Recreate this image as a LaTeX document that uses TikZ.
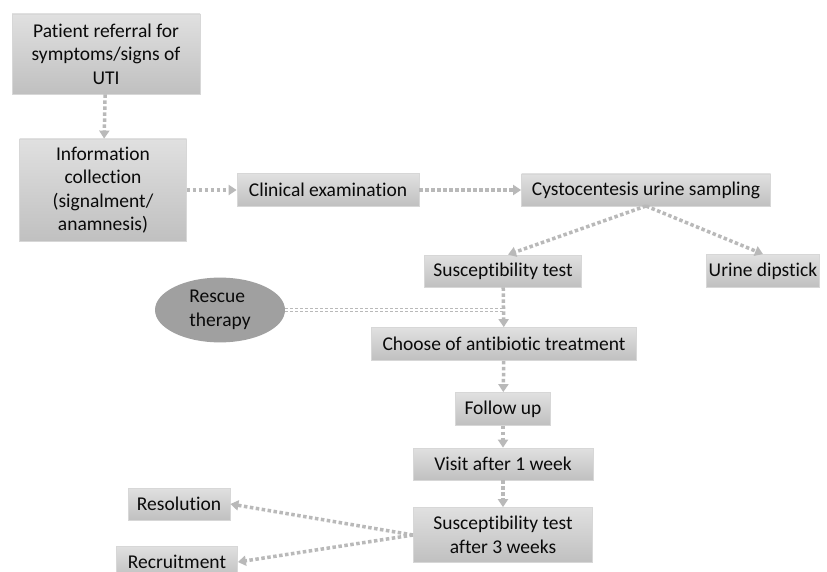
\documentclass[tikz,border=0pt]{standalone}
\usepackage{fontspec}
\setmainfont{Carlito}[Ligatures=NoCommon]
\usepackage{tikz}
\usetikzlibrary{positioning, arrows.meta, shapes.geometric}
\definecolor{boxtop}{RGB}{224,224,224}
\definecolor{boxbottom}{RGB}{192,192,192}
\definecolor{boxedge}{RGB}{215,215,215}
\definecolor{linkgray}{RGB}{185,185,185}
\definecolor{ovalgray}{RGB}{160,160,160}
\definecolor{textdark}{RGB}{10,10,10}
\tikzset{
  stepbox/.style={
    draw=boxedge, line width=0.8pt, top color=boxtop, bottom color=boxbottom,
    text=textdark, font=\fontsize{19.5}{23.5}\selectfont,
    align=center, inner sep=2pt
  },
  oval/.style={
    ellipse, fill=ovalgray, draw=none, text=textdark,
    font=\fontsize{19.5}{23.5}\selectfont, align=left
  },
  flow/.style={-{Triangle[length=8pt, width=10pt]}, linkgray, line width=3.5pt,
    dash pattern=on 3.5pt off 2.5pt},
  rescue/.style={linkgray, double=white, double distance=1.6pt, line width=1.4pt,
    dash pattern=on 3pt off 2pt}
}

\begin{document}
\begin{tikzpicture}[x=1pt, y=-1pt]
  \useasboundingbox[fill=white] (0,0) rectangle (827,572);

  \node[stepbox, minimum width=188pt, minimum height=80pt] (referral) at (106,54)
    {Patient referral for\\symptoms/signs of\\UTI};
  \node[stepbox, minimum width=167pt, minimum height=102pt] (info) at (103,190)
    {Information\\collection\\(signalment/\\anamnesis)};
  \node[stepbox, minimum width=182pt, minimum height=33pt] (clinic) at (328,190)
    {Clinical examination};
  \node[stepbox, minimum width=249pt, minimum height=32pt] (cysto) at (646,190)
    {Cystocentesis urine sampling};
  \node[stepbox, minimum width=157pt, minimum height=32pt] (suscept) at (503,271)
    {Susceptibility test};
  \node[stepbox, minimum width=110pt, minimum height=33pt] (dipstick) at (763,271)
    {Urine dipstick};
  \node[oval, minimum width=130pt, minimum height=55pt] (rescue) at (220,310)
    {Rescue\\therapy};
  \node[stepbox, minimum width=265pt, minimum height=33pt] (choose) at (504,344)
    {Choose of antibiotic treatment};
  \node[stepbox, minimum width=95pt, minimum height=33pt] (follow) at (503,409)
    {Follow up};
  \node[stepbox, minimum width=180pt, minimum height=32pt] (visit) at (503,464)
    {Visit after 1 week};
  \node[stepbox, minimum width=179pt, minimum height=55pt] (final) at (503,535)
    {Susceptibility test\\after 3 weeks};
  \node[stepbox, minimum width=102pt, minimum height=32pt] (resolution) at (179,504)
    {Resolution};
  \node[stepbox, minimum width=121pt, minimum height=32pt] (recruit) at (177,562)
    {Recruitment};

  \coordinate (split) at (646,206);
  \coordinate (join) at (413,535);
  \coordinate (meet) at (suscept.south |- rescue.east);

  \draw[flow] (referral) -- (info);
  \draw[flow] (info) -- (clinic);
  \draw[flow] (clinic) -- (cysto);
  \draw[flow] (split) -- ([xshift=5pt]suscept.north);
  \draw[flow] (split) -- (dipstick.north);
  \draw[flow] (suscept) -- (choose);
  \draw[rescue] (rescue.east) -- (meet);
  \draw[flow] (choose) -- (follow);
  \draw[flow] (follow) -- (visit);
  \draw[flow] (visit) -- (final);
  \draw[flow] (join) -- (resolution.east);
  \draw[flow] (join) -- (recruit.east);
\end{tikzpicture}
\end{document}
